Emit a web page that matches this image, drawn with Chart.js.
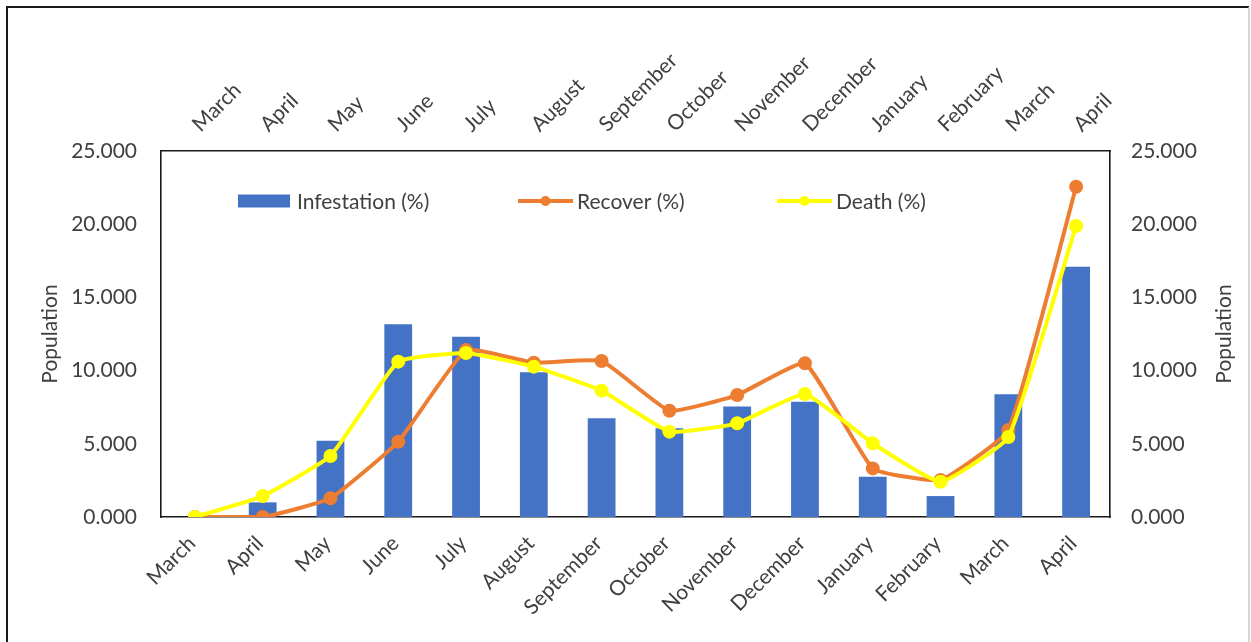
<!DOCTYPE html>
<html>
<head>
<meta charset="utf-8">
<script src="https://cdn.jsdelivr.net/npm/chart.js@4.4.1/dist/chart.umd.min.js"></script>
<style>
  html, body { margin: 0; padding: 0; background: #fff; }
  #wrap { position: relative; width: 1251px; height: 642px; }
</style>
</head>
<body>
<div id="wrap"><canvas id="c" width="1251" height="642"></canvas></div>
<script>
const categories = ['March','April','May','June','July','August','September','October','November','December','January','February','March','April'];
const infestation = [0, 1.00, 5.21, 13.16, 12.32, 9.88, 6.74, 6.06, 7.54, 7.88, 2.75, 1.43, 8.38, 17.10];
const recover = [0, 0, 1.28, 5.14, 11.40, 10.54, 10.66, 7.26, 8.33, 10.50, 3.32, 2.53, 5.94, 22.56];
const death = [0, 1.43, 4.17, 10.61, 11.20, 10.27, 8.63, 5.83, 6.40, 8.40, 5.03, 2.41, 5.46, 19.88];
const seriesNames = ['Infestation (%)', 'Recover (%)', 'Death (%)'];
const axisTitle = 'Population';
const yTicks = { min: 0, max: 25, step: 5 };

const FONT = 'Lato, "Open Sans", sans-serif';
const FS = 21;
const TXT = '#404040';
const BLUE = '#4472C4', ORANGE = '#ED7D31', YELLOW = '#FFFF00';

const framePlugin = {
  id: 'frame',
  beforeDraw(chart) {
    const ctx = chart.ctx;
    ctx.save();
    ctx.fillStyle = '#fff';
    ctx.fillRect(0, 0, chart.width, chart.height);
    ctx.strokeStyle = '#1a1a1a';
    ctx.lineWidth = 2;
    ctx.beginPath();
    ctx.moveTo(7, chart.height);
    ctx.lineTo(7, 7);
    ctx.lineTo(1249, 7);
    ctx.stroke();
    ctx.strokeStyle = '#c8c8c8';
    ctx.lineWidth = 1.5;
    ctx.beginPath();
    ctx.moveTo(1249, 7);
    ctx.lineTo(1249, chart.height);
    ctx.stroke();
    ctx.restore();
  }
};

const decorPlugin = {
  id: 'decor',
  afterDraw(chart) {
    const ctx = chart.ctx;
    const a = chart.chartArea;
    const ds = chart.data.datasets;
    ctx.save();
    ctx.font = FS + 'px ' + FONT;
    ctx.fillStyle = TXT;
    ctx.textBaseline = 'middle';
    // axis titles
    const cy = (a.top + a.bottom) / 2;
    [a.left - 111, a.right + 114].forEach(x => {
      ctx.save();
      ctx.translate(x, cy);
      ctx.rotate(-Math.PI / 2);
      ctx.textAlign = 'center';
      ctx.fillText(axisTitle, 0, 0);
      ctx.restore();
    });
    // legend inside plot area
    const ly = a.top + 50;
    const x0 = a.left + 77;
    ctx.textAlign = 'left';
    ctx.fillStyle = ds[0].backgroundColor;
    ctx.fillRect(x0, ly - 6.5, 52, 13);
    ctx.fillStyle = TXT;
    ctx.fillText(ds[0].label, x0 + 59, ly + 1);
    [[1, a.left + 357], [2, a.left + 616]].forEach(([i, lx]) => {
      const d = ds[i];
      ctx.strokeStyle = d.borderColor;
      ctx.lineWidth = 4;
      ctx.beginPath();
      ctx.moveTo(lx, ly);
      ctx.lineTo(lx + 55, ly);
      ctx.stroke();
      ctx.fillStyle = d.pointBackgroundColor;
      ctx.beginPath();
      ctx.arc(lx + 27.5, ly, 5, 0, Math.PI * 2);
      ctx.fill();
      ctx.fillStyle = TXT;
      ctx.fillText(d.label, lx + 59, ly + 1);
    });
    ctx.restore();
  }
};

const tickFont = { family: FONT, size: FS };
const yCommon = {
  min: yTicks.min, max: yTicks.max,
  grid: { display: false, drawTicks: false },
  border: { display: true, color: '#1a1a1a', width: 1.6 },
};

new Chart(document.getElementById('c'), {
  data: {
    labels: categories,
    datasets: [
      { type: 'bar', label: seriesNames[0], data: infestation, backgroundColor: BLUE,
        categoryPercentage: 1, barPercentage: 0.41, order: 3, xAxisID: 'x', yAxisID: 'y' },
      { type: 'line', label: seriesNames[1], data: recover, borderColor: ORANGE, backgroundColor: ORANGE,
        pointBackgroundColor: ORANGE, pointBorderColor: ORANGE, pointRadius: 5, borderWidth: 4,
        tension: 0.12, order: 2, xAxisID: 'x', yAxisID: 'y' },
      { type: 'line', label: seriesNames[2], data: death, borderColor: YELLOW, backgroundColor: YELLOW,
        pointBackgroundColor: YELLOW, pointBorderColor: YELLOW, pointRadius: 5, borderWidth: 4,
        tension: 0.12, order: 1, xAxisID: 'x', yAxisID: 'y' }
    ]
  },
  options: {
    responsive: false,
    animation: false,
    layout: { padding: 0 },
    plugins: { legend: { display: false }, tooltip: { enabled: false } },
    scales: {
      x: {
        type: 'category', position: 'bottom', offset: true,
        grid: { display: false, drawTicks: false, offset: true },
        border: { display: true, color: '#1a1a1a', width: 1.6 },
        ticks: { font: tickFont, color: TXT, minRotation: 45, maxRotation: 45, padding: 14, labelOffset: -3, autoSkip: false },
        afterFit: s => { s.height = 125; }
      },
      x2: {
        type: 'category', position: 'top', offset: true, labels: categories,
        grid: { display: false, drawTicks: false, offset: true },
        border: { display: true, color: '#1a1a1a', width: 1.6 },
        ticks: { font: tickFont, color: TXT, minRotation: 45, maxRotation: 45, padding: 14, labelOffset: 19, autoSkip: false },
        afterFit: s => { s.height = 151; }
      },
      y: Object.assign({}, yCommon, {
        position: 'left',
        ticks: { font: tickFont, color: TXT, stepSize: yTicks.step, padding: 24, callback: v => v.toFixed(3) },
        afterFit: s => { s.width = 161; }
      }),
      y2: Object.assign({}, yCommon, {
        position: 'right',
        ticks: { font: tickFont, color: TXT, stepSize: yTicks.step, padding: 21, callback: v => v.toFixed(3) },
        afterFit: s => { s.width = 141; }
      })
    }
  },
  plugins: [framePlugin, decorPlugin]
});
</script>
</body>
</html>
